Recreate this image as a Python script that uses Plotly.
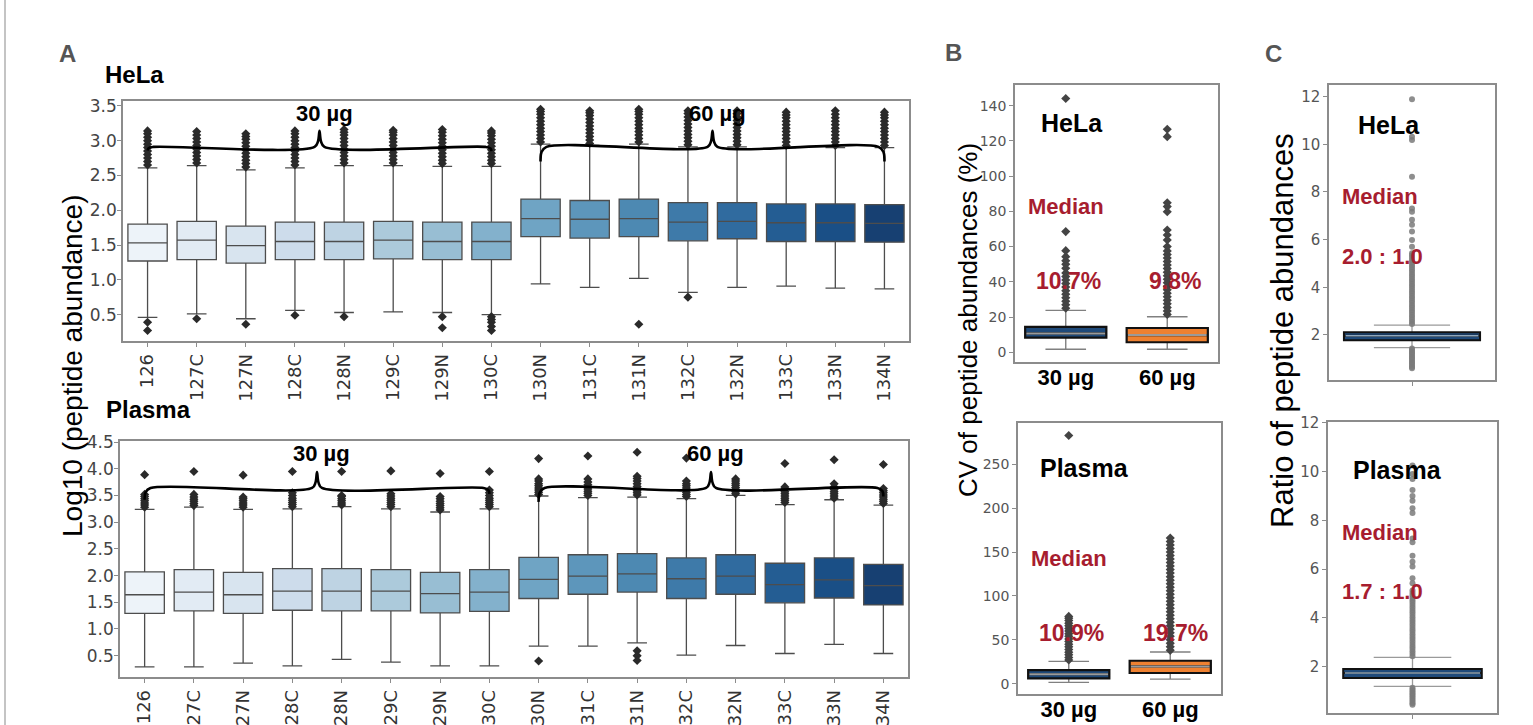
import plotly.graph_objects as go
import colorsys

# ---------------- data ----------------
channels = ["126", "127C", "127N", "128C", "128N", "129C", "129N", "130C",
            "130N", "131C", "131N", "132C", "132N", "133C", "133N", "134N"]
load_groups = ["30 µg", "60 µg"]
group_ranges = [(0, 7), (8, 15)]

# Panel A - HeLa log10 abundance box stats
hela_q1 = [1.27, 1.29, 1.24, 1.29, 1.29, 1.30, 1.29, 1.29, 1.62, 1.60, 1.62, 1.56, 1.59, 1.55, 1.55, 1.54]
hela_med = [1.53, 1.57, 1.49, 1.55, 1.55, 1.57, 1.55, 1.55, 1.88, 1.87, 1.88, 1.83, 1.84, 1.82, 1.82, 1.81]
hela_q3 = [1.80, 1.84, 1.77, 1.83, 1.83, 1.84, 1.83, 1.83, 2.16, 2.14, 2.16, 2.11, 2.11, 2.09, 2.09, 2.08]
hela_lw = [0.46, 0.51, 0.44, 0.56, 0.53, 0.54, 0.53, 0.50, 0.94, 0.89, 1.02, 0.82, 0.89, 0.91, 0.88, 0.87]
hela_uw = [2.61, 2.64, 2.58, 2.61, 2.64, 2.64, 2.63, 2.63, 2.95, 2.93, 2.95, 2.91, 2.91, 2.90, 2.90, 2.90]
hela_out = [
    [2.65, 2.70, 2.75, 2.80, 2.85, 2.90, 2.95, 3.00, 3.05, 3.10, 3.14, 0.39, 0.27],
    [2.68, 2.73, 2.78, 2.83, 2.88, 2.93, 2.98, 3.03, 3.08, 3.13, 0.44],
    [2.62, 2.67, 2.72, 2.77, 2.82, 2.87, 2.92, 2.97, 3.02, 3.06, 3.10, 0.36],
    [2.65, 2.70, 2.75, 2.80, 2.85, 2.90, 2.95, 3.00, 3.05, 3.10, 3.14, 0.49],
    [2.68, 2.73, 2.78, 2.83, 2.88, 2.93, 2.98, 3.03, 3.08, 3.12, 3.16, 0.47],
    [2.68, 2.73, 2.78, 2.83, 2.88, 2.93, 2.98, 3.03, 3.08, 3.12, 3.15],
    [2.67, 2.72, 2.77, 2.82, 2.87, 2.92, 2.97, 3.02, 3.07, 3.12, 3.16, 0.47, 0.31],
    [2.67, 2.72, 2.77, 2.82, 2.87, 2.92, 2.97, 3.02, 3.07, 3.11, 3.14, 0.47, 0.43, 0.39, 0.33, 0.27],
    [2.98, 3.03, 3.08, 3.13, 3.18, 3.23, 3.28, 3.33, 3.38, 3.42, 3.45],
    [2.96, 3.01, 3.06, 3.11, 3.16, 3.21, 3.26, 3.31, 3.36, 3.40, 3.43],
    [2.98, 3.03, 3.08, 3.13, 3.18, 3.23, 3.28, 3.33, 3.38, 3.42, 3.45, 0.36],
    [2.94, 2.99, 3.04, 3.09, 3.14, 3.19, 3.24, 3.29, 3.34, 3.39, 3.43, 0.75],
    [2.94, 2.99, 3.04, 3.09, 3.14, 3.19, 3.24, 3.29, 3.34, 3.39, 3.43],
    [2.93, 2.98, 3.03, 3.08, 3.13, 3.18, 3.23, 3.28, 3.33, 3.37, 3.41],
    [2.93, 2.98, 3.03, 3.08, 3.13, 3.18, 3.23, 3.28, 3.33, 3.38, 3.43],
    [2.93, 2.98, 3.03, 3.08, 3.13, 3.18, 3.23, 3.28, 3.33, 3.37, 3.41],
]

# Panel A - Plasma log10 abundance box stats
plasma_q1 = [1.29, 1.34, 1.29, 1.35, 1.34, 1.34, 1.30, 1.33, 1.57, 1.65, 1.69, 1.57, 1.65, 1.49, 1.58, 1.45]
plasma_med = [1.64, 1.69, 1.64, 1.71, 1.71, 1.71, 1.66, 1.69, 1.93, 1.99, 2.03, 1.94, 1.99, 1.83, 1.92, 1.81]
plasma_q3 = [2.07, 2.11, 2.06, 2.13, 2.13, 2.11, 2.06, 2.11, 2.34, 2.39, 2.41, 2.33, 2.39, 2.23, 2.33, 2.21]
plasma_lw = [0.29, 0.29, 0.36, 0.31, 0.43, 0.38, 0.31, 0.31, 0.68, 0.68, 0.74, 0.51, 0.69, 0.54, 0.71, 0.54]
plasma_uw = [3.24, 3.28, 3.24, 3.25, 3.29, 3.25, 3.19, 3.25, 3.49, 3.46, 3.47, 3.44, 3.50, 3.33, 3.42, 3.32]
plasma_out = [
    [3.28, 3.32, 3.36, 3.40, 3.44, 3.48, 3.52, 3.89],
    [3.31, 3.35, 3.39, 3.43, 3.47, 3.52, 3.95],
    [3.28, 3.32, 3.36, 3.40, 3.44, 3.47, 3.88],
    [3.29, 3.33, 3.37, 3.41, 3.45, 3.50, 3.55, 3.95],
    [3.32, 3.36, 3.40, 3.44, 3.48, 3.50, 3.95],
    [3.29, 3.33, 3.37, 3.41, 3.45, 3.49, 3.53, 3.96],
    [3.23, 3.27, 3.31, 3.35, 3.39, 3.44, 3.48, 3.91],
    [3.29, 3.33, 3.37, 3.41, 3.45, 3.50, 3.55, 3.60, 3.95],
    [3.52, 3.56, 3.60, 3.64, 3.68, 3.72, 3.77, 3.81, 4.19, 0.40],
    [3.50, 3.54, 3.58, 3.62, 3.66, 3.70, 3.75, 3.81, 4.24],
    [3.51, 3.55, 3.59, 3.63, 3.67, 3.72, 3.77, 3.82, 3.86, 4.31, 0.59, 0.50, 0.41],
    [3.48, 3.52, 3.56, 3.60, 3.64, 3.68, 3.72, 3.77, 4.20],
    [3.53, 3.57, 3.61, 3.65, 3.69, 3.73, 3.77, 3.81],
    [3.37, 3.41, 3.45, 3.49, 3.53, 3.57, 3.62, 3.66, 4.10],
    [3.45, 3.49, 3.53, 3.57, 3.61, 3.66, 3.72, 4.17],
    [3.35, 3.39, 3.43, 3.47, 3.51, 3.55, 3.59, 3.63, 4.08],
]

# Panel B - CV (%)
hela_cv_q1 = [8.3, 5.7]
hela_cv_med = [10.7, 9.8]
hela_cv_q3 = [14.4, 13.8]
hela_cv_lw = [1.7, 1.7]
hela_cv_uw = [23.8, 20.2]
hela_cv_out = [
    [25, 27, 29, 31, 33, 35, 37, 39, 41, 43, 45, 47.7, 50, 52, 54.3, 57.7, 68.5, 144],
    [21.5, 23.5, 25.5, 27.5, 29.5, 31.5, 33.5, 35.5, 37.5, 39.5, 41.5, 43.5, 45.5, 47.5, 49.5,
     51.5, 53.5, 55.5, 57.5, 60, 63.7, 66.6, 69.4, 79.8, 82.7, 84.9, 122.4, 126.6],
]
plasma_cv_q1 = [6.1, 12.2]
plasma_cv_med = [10.9, 19.7]
plasma_cv_q3 = [15.6, 26.2]
plasma_cv_lw = [1.5, 5.3]
plasma_cv_uw = [25.5, 36.1]
plasma_cv_out = [
    [27, 30, 33, 36, 39, 42, 45, 48, 51, 54, 57, 60, 63, 66, 69, 72, 74.5, 76.7, 282.7],
    [38, 42, 46, 50, 54, 58, 62, 66, 70, 74, 78, 82, 86, 90, 94, 98, 102, 106, 110, 114, 118,
     122, 126, 130, 134, 138, 142, 146, 150, 154, 158, 162, 166],
]

# Panel C - ratio 60/30
hela_ratio = dict(q1=1.78, med=1.97, q3=2.11, lw=1.47, uw=2.41)
hela_ratio_out = [2.46, 2.55, 2.65, 2.75, 2.85, 2.95, 3.05, 3.15, 3.25, 3.35, 3.45, 3.55, 3.65, 3.75,
                  3.85, 3.95, 4.05, 4.15, 4.25, 4.35, 4.45, 4.55, 4.65, 4.75, 4.85, 4.95, 5.05, 5.15,
                  5.25, 5.35, 5.43, 5.70, 5.99, 6.34, 6.62, 6.83, 7.17, 7.31, 8.64, 10.18, 10.32, 11.89,
                  1.43, 1.36, 1.29, 1.22, 1.15, 1.08, 1.01, 0.94, 0.87, 0.80, 0.73, 0.66, 0.60]
plasma_ratio = dict(q1=1.52, med=1.73, q3=1.89, lw=1.18, uw=2.37)
plasma_ratio_out = [2.42, 2.52, 2.62, 2.72, 2.82, 2.92, 3.02, 3.12, 3.22, 3.32, 3.42, 3.52, 3.62, 3.72,
                    3.82, 3.92, 4.02, 4.12, 4.22, 4.32, 4.42, 4.52, 4.62, 4.72, 4.82, 4.92, 5.02, 5.12,
                    5.42, 5.62, 6.10, 6.30, 6.55, 7.10, 7.25, 8.30, 8.50, 8.80, 9.00, 9.25, 9.70, 9.90, 10.25,
                    1.12, 1.05, 0.98, 0.91, 0.84, 0.77, 0.70, 0.63, 0.56, 0.49, 0.42]

# tick values
a_top_yticks = [0.5, 1.0, 1.5, 2.0, 2.5, 3.0, 3.5]
a_bot_yticks = [0.5, 1.0, 1.5, 2.0, 2.5, 3.0, 3.5, 4.0, 4.5]
b_top_yticks = [0, 20, 40, 60, 80, 100, 120, 140]
b_bot_yticks = [0, 50, 100, 150, 200, 250]
c_yticks = [2, 4, 6, 8, 10, 12]

# ---------------- styling helpers ----------------
W, H = 1533, 725


def blues(n, sat=0.75):
    anchors = ["#f7fbff", "#deebf7", "#c6dbef", "#9ecae1", "#6baed6",
               "#4292c6", "#2171b5", "#08519c", "#08306b"]
    rgb = [tuple(int(a[i:i + 2], 16) / 255 for i in (1, 3, 5)) for a in anchors]
    out = []
    for k in range(n):
        p = (k + 1) / (n + 1) * (len(rgb) - 1)
        i = min(int(p), len(rgb) - 2)
        t = p - i
        c = [rgb[i][j] + (rgb[i + 1][j] - rgb[i][j]) * t for j in range(3)]
        h, l, s = colorsys.rgb_to_hls(*c)
        r, g, b = colorsys.hls_to_rgb(h, l, s * sat)
        out.append("rgb(%d,%d,%d)" % (r * 255, g * 255, b * 255))
    return out


palette = blues(len(channels))
RED = "#a71d2f"
ARIAL = "Liberation Sans, Arial, sans-serif"
TICKF = "DejaVu Sans, Verdana, sans-serif"


def px_dom(a, b, total):
    return [a / total, b / total]


def py_dom(top, bottom):
    return [1 - bottom / H, 1 - top / H]


fig = go.Figure()


def add_box(xa, ya, x, q1, med, q3, lw, uw, fill, line, lwidth=1.2, width=0.8, ww=0.5):
    fig.add_trace(go.Box(x=[x], q1=[q1], median=[med], q3=[q3], lowerfence=[lw], upperfence=[uw],
                         fillcolor=fill, line=dict(color=line, width=lwidth), width=width,
                         whiskerwidth=ww, xaxis=xa, yaxis=ya, hoverinfo="skip", showlegend=False))


def add_points(xa, ya, x, vals, color, symbol="diamond", size=6, opacity=1.0):
    fig.add_trace(go.Scatter(x=[x] * len(vals), y=vals, mode="markers", xaxis=xa, yaxis=ya,
                             marker=dict(symbol=symbol, size=size, color=color, opacity=opacity,
                                         line=dict(width=0)),
                             hoverinfo="skip", showlegend=False))


# ---- Panel A ----
for (xa, ya, q1s, meds, q3s, lws, uws, outs) in [
        ("x", "y", hela_q1, hela_med, hela_q3, hela_lw, hela_uw, hela_out),
        ("x2", "y2", plasma_q1, plasma_med, plasma_q3, plasma_lw, plasma_uw, plasma_out)]:
    for i in range(len(channels)):
        add_box(xa, ya, i, q1s[i], meds[i], q3s[i], lws[i], uws[i], palette[i], "#4d4d4d", 1.3)
        add_points(xa, ya, i, outs[i], "#2a2a2a", size=7)


# brackets (curly braces over each loading group)
def bracket(xa, ya, x0, x1, level, peak, hook_l, hook_r):
    xm = (x0 + x1) / 2
    xs = [x0, x0 + 0.02, x0 + 0.12, xm - 0.1, xm - 0.03, xm, xm + 0.03, xm + 0.1, x1 - 0.12, x1 - 0.02, x1]
    ys = [level - hook_l, level - hook_l * 0.35, level, level, level + peak * 0.35, level + peak,
          level + peak * 0.35, level, level, level - hook_r * 0.35, level - hook_r]
    fig.add_trace(go.Scatter(x=xs, y=ys, mode="lines", line=dict(color="black", width=2.6),
                             line_shape="spline", xaxis=xa, yaxis=ya, hoverinfo="skip", showlegend=False))


bracket("x", "y", 0, 7, 2.91, 0.23, 0.05, 0.06)
bracket("x", "y", 8, 15, 2.91, 0.23, 0.21, 0.21)
bracket("x2", "y2", 0, 7, 3.64, 0.30, 0.22, 0.11)
bracket("x2", "y2", 8, 15, 3.64, 0.30, 0.26, 0.16)


# ---- Panel B ----
def add_styled_box(xa, ya, x, q1, med, q3, lw, uw, fill, whisk="#808080", medc="#9a9a9a",
                   width=0.8, ww=0.5):
    add_box(xa, ya, x, med, med, med, lw, uw, "rgba(0,0,0,0)", whisk, 1.4, width, ww)
    add_box(xa, ya, x, q1, med, q3, q1, q3, fill, "#111111", 2.2, width, ww)
    add_box(xa, ya, x, med, med, med, med, med, "rgba(0,0,0,0)", medc, 2.0, width * 0.97, ww)


b_fills = ["#1f4a7a", "#ee8131"]
for (xa, ya, q1s, meds, q3s, lws, uws, outs) in [
        ("x3", "y3", hela_cv_q1, hela_cv_med, hela_cv_q3, hela_cv_lw, hela_cv_uw, hela_cv_out),
        ("x4", "y4", plasma_cv_q1, plasma_cv_med, plasma_cv_q3, plasma_cv_lw, plasma_cv_uw, plasma_cv_out)]:
    for i in range(len(load_groups)):
        add_styled_box(xa, ya, i, q1s[i], meds[i], q3s[i], lws[i], uws[i], b_fills[i])
        add_points(xa, ya, i, outs[i], "#444444", size=7)

# ---- Panel C ----
for (xa, ya, st, outs) in [("x5", "y5", hela_ratio, hela_ratio_out),
                           ("x6", "y6", plasma_ratio, plasma_ratio_out)]:
    add_box(xa, ya, 0, st["med"], st["med"], st["med"], st["lw"], st["uw"], "rgba(0,0,0,0)", "#9a9a9a",
            1.3, 0.82, 0.56)
    add_points(xa, ya, 0, outs, "#7a7a7a", symbol="circle", size=6, opacity=0.85)
    add_box(xa, ya, 0, st["q1"], st["med"], st["q3"], st["q1"], st["q3"], "#1f4a7a", "#111111", 2.0, 0.82, 0.56)
    add_box(xa, ya, 0, st["med"], st["med"], st["med"], st["med"], st["med"], "rgba(0,0,0,0)", "#8fa8bf",
            1.6, 0.80, 0.56)

# ---------------- axes ----------------
frame = dict(showline=True, mirror=True, linecolor="#8c8c8c", linewidth=1.5, showgrid=False,
             zeroline=False, automargin=False)
tk = dict(ticks="outside", ticklen=4, tickcolor="#8c8c8c", tickwidth=1)

layout_axes = dict(
    xaxis=dict(domain=px_dom(123, 909, W), anchor="y", range=[-0.5, 15.5],
               tickvals=list(range(len(channels))), ticktext=channels, tickangle=-90,
               tickfont=dict(family=TICKF, size=18, color="#333333"), **tk, **frame),
    yaxis=dict(domain=py_dom(101, 341), anchor="x", range=[0.12, 3.57], tickvals=a_top_yticks,
               ticktext=["%.1f" % v for v in a_top_yticks], ticklabelstandoff=-3,
               tickfont=dict(family=TICKF, size=17, color="#444444"), **tk, **frame),
    xaxis2=dict(domain=px_dom(120, 908, W), anchor="y2", range=[-0.5, 15.5],
                tickvals=list(range(len(channels))), ticktext=channels, tickangle=-90,
                tickfont=dict(family=TICKF, size=18, color="#333333"), **tk, **frame),
    yaxis2=dict(domain=py_dom(441, 677), anchor="x2", range=[0.10, 4.52], tickvals=a_bot_yticks,
                ticktext=["%.1f" % v for v in a_bot_yticks], ticklabelstandoff=-3,
                tickfont=dict(family=TICKF, size=17, color="#444444"), **tk, **frame),
    xaxis3=dict(domain=px_dom(1015, 1218, W), anchor="y3", range=[-0.5, 1.5],
                tickvals=[0, 1], ticktext=load_groups, ticks="", ticklabelstandoff=-5,
                tickfont=dict(family=ARIAL, size=22, color="black", weight="bold"), **frame),
    yaxis3=dict(domain=py_dom(85, 362), anchor="x3", range=[-5.5, 151.7], tickvals=b_top_yticks,
                tickfont=dict(family=TICKF, size=14, color="#555555"), **tk, **frame),
    xaxis4=dict(domain=px_dom(1018, 1221, W), anchor="y4", range=[-0.5, 1.5],
                tickvals=[0, 1], ticktext=load_groups, ticks="", ticklabelstandoff=-5,
                tickfont=dict(family=ARIAL, size=22, color="black", weight="bold"), **frame),
    yaxis4=dict(domain=py_dom(423, 694), anchor="x4", range=[-11.7, 297], tickvals=b_bot_yticks,
                tickfont=dict(family=TICKF, size=14, color="#555555"), **tk, **frame),
    xaxis5=dict(domain=px_dom(1329, 1495, W), anchor="y5", range=[-0.5, 0.5], tickvals=[0],
                ticktext=[""], **tk, **frame),
    yaxis5=dict(domain=py_dom(85, 380), anchor="x5", range=[0.11, 12.49], tickvals=c_yticks,
                tickfont=dict(family=TICKF, size=15, color="#555555"), **tk, **frame),
    xaxis6=dict(domain=px_dom(1328, 1497, W), anchor="y6", range=[-0.5, 0.5], tickvals=[0],
                ticktext=[""], **tk, **frame),
    yaxis6=dict(domain=py_dom(422, 713), anchor="x6", range=[0.085, 12.04], tickvals=c_yticks,
                tickfont=dict(family=TICKF, size=15, color="#555555"), **tk, **frame),
)

# ---------------- annotations ----------------
ann = []


def paper_text(text, px, py, size, color="black", bold=True, angle=0, family=ARIAL):
    ann.append(dict(text=text, x=px / W, y=1 - py / H, xref="paper", yref="paper",
                    xanchor="center", yanchor="middle", showarrow=False, textangle=angle,
                    font=dict(family=family, size=size, color=color, weight="bold" if bold else "normal")))


def data_text(text, xa, ya, x, y, size, color="black"):
    ann.append(dict(text=text, x=x, y=y, xref=xa, yref=ya, xanchor="center", yanchor="middle",
                    showarrow=False, font=dict(family=ARIAL, size=size, color=color, weight="bold")))


paper_text("A", 67, 53, 24, "#555555")
paper_text("B", 953, 52, 24, "#555555")
paper_text("C", 1273, 54, 24, "#555555")
paper_text("HeLa", 134, 74, 24)
paper_text("Plasma", 148, 409, 24)
paper_text("Log10 (peptide abundance)", 72, 366, 28, bold=False, angle=-90)
paper_text("CV of peptide abundances (%)", 968, 320, 26, bold=False, angle=-90)
paper_text("Ratio of peptide abundances", 1282, 331, 31, bold=False, angle=-90)

# bracket labels
for (xa, ya, ly) in [("x", "y", 3.39), ("x2", "y2", 4.29)]:
    for g, (a, b) in zip(load_groups, group_ranges):
        data_text(g, xa, ya, (a + b) / 2 + 0.1, ly, 22)

# panel B labels
data_text("HeLa", "x3", "y3", 0.06, 130, 25)
data_text("Median", "x3", "y3", 0.0, 82.7, 22, RED)
data_text("%.1f%%" % hela_cv_med[0], "x3", "y3", 0.03, 40.6, 23, RED)
data_text("%.1f%%" % hela_cv_med[1], "x3", "y3", 1.08, 40.6, 23, RED)
data_text("Plasma", "x4", "y4", 0.16, 246, 25)
data_text("Median", "x4", "y4", 0.0, 142.5, 22, RED)
data_text("%.1f%%" % plasma_cv_med[0], "x4", "y4", 0.03, 58, 23, RED)
data_text("%.1f%%" % plasma_cv_med[1], "x4", "y4", 1.05, 58, 23, RED)

# panel C labels
data_text("HeLa", "x5", "y5", -0.14, 10.8, 25)
data_text("Median", "x5", "y5", -0.19, 7.83, 22, RED)
data_text("%.1f : 1.0" % hela_ratio["med"], "x5", "y5", -0.18, 5.31, 22, RED)
data_text("Plasma", "x6", "y6", -0.086, 10.08, 25)
data_text("Median", "x6", "y6", -0.19, 7.51, 22, RED)
data_text("%.1f : 1.0" % plasma_ratio["med"], "x6", "y6", -0.175, 5.06, 22, RED)

fig.update_layout(
    width=W, height=H, autosize=False, margin=dict(l=0, r=0, t=0, b=0, autoexpand=False),
    paper_bgcolor="white", plot_bgcolor="white", boxmode="overlay", showlegend=False,
    font=dict(family=ARIAL), annotations=ann,
    shapes=[dict(type="line", xref="paper", yref="paper", x0=5 / W, x1=5 / W, y0=0, y1=1,
                 line=dict(color="#c4c4c4", width=2))],
    **layout_axes,
)

fig.write_html("out.html", config={"displayModeBar": False})
with open("out.html", "r", encoding="utf-8") as f:
    html = f.read()
html = html.replace("<head>", "<head><style>html,body{margin:0;padding:0;overflow:hidden;}</style>", 1)
with open("out.html", "w", encoding="utf-8") as f:
    f.write(html)
